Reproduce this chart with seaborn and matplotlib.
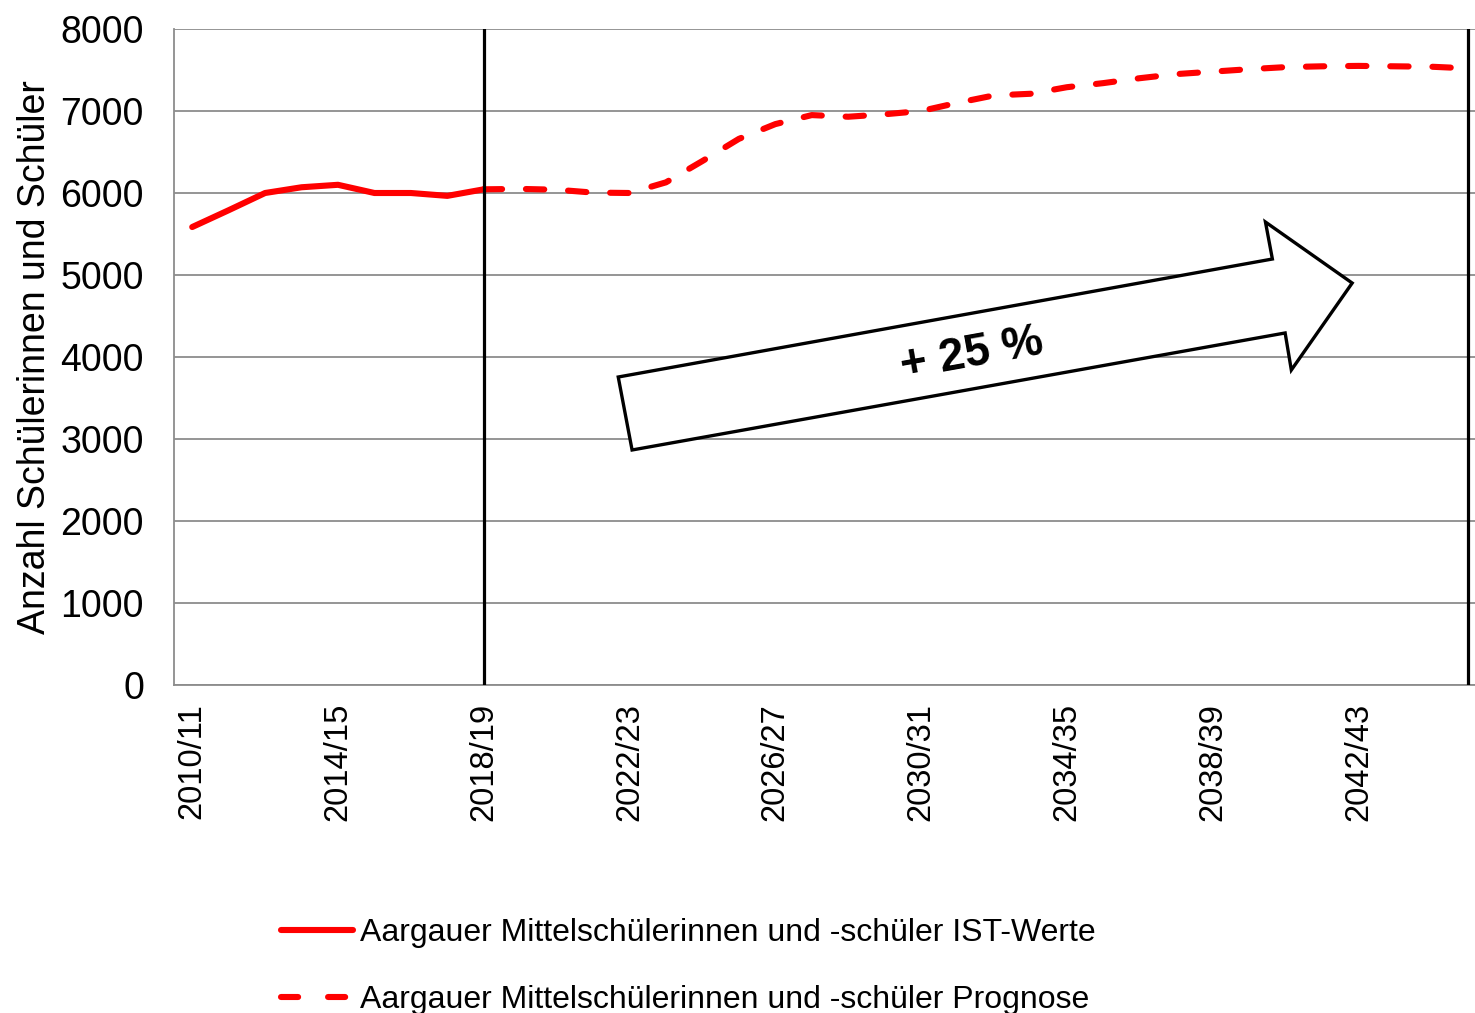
import matplotlib
matplotlib.use("Agg")
import matplotlib.pyplot as plt
import seaborn as sns
import pandas as pd
from matplotlib.patches import Polygon
from matplotlib.lines import Line2D

sns.set_theme(style="white")
plt.rcParams['font.family'] = ['Liberation Sans', 'DejaVu Sans']
plt.rcParams['text.color'] = 'black'
plt.rcParams['axes.labelcolor'] = 'black'

years = ["2010/11", "2011/12", "2012/13", "2013/14", "2014/15", "2015/16",
         "2016/17", "2017/18", "2018/19", "2019/20", "2020/21", "2021/22",
         "2022/23", "2023/24", "2024/25", "2025/26", "2026/27", "2027/28",
         "2028/29", "2029/30", "2030/31", "2031/32", "2032/33", "2033/34",
         "2034/35", "2035/36", "2036/37", "2037/38", "2038/39", "2039/40",
         "2040/41", "2041/42", "2042/43", "2043/44", "2044/45", "2045/46"]

ist_years = years[:9]
ist_values = [5585, 5790, 6000, 6070, 6100, 6000, 6000, 5965, 6045]

prog_years = years[8:]
prog_values = [6045, 6050, 6040, 6005, 6000, 6130, 6390, 6660, 6840, 6950,
               6930, 6960, 7000, 7100, 7190, 7210, 7290, 7340, 7400, 7450,
               7480, 7510, 7535, 7545, 7550, 7545, 7540, 7520]

y_ticks = [0, 1000, 2000, 3000, 4000, 5000, 6000, 7000, 8000]
label_years = years[::4]
vline_years = ["2018/19", "2045/46"]

ist_label = "Aargauer Mittelschülerinnen und -schüler IST-Werte"
prog_label = "Aargauer Mittelschülerinnen und -schüler Prognose"
ylabel = "Anzahl Schülerinnen und Schüler"
arrow_text = "+ 25 %"

idx = {y: i for i, y in enumerate(years)}
df_ist = pd.DataFrame({"x": [idx[y] for y in ist_years], "v": ist_values})
df_prog = pd.DataFrame({"x": [idx[y] for y in prog_years], "v": prog_values})

W, H = 1475, 1013
fig = plt.figure(figsize=(W / 100, H / 100), dpi=100)
left, right, top, bottom = 174, 1475, 29, 685
ax = fig.add_axes([left / W, 1 - bottom / H, (right - left) / W, (bottom - top) / H])

red = "#FF0000"
sns.lineplot(data=df_ist, x="x", y="v", ax=ax, color=red, linewidth=4.4,
             solid_capstyle="round", legend=False)
sns.lineplot(data=df_prog, x="x", y="v", ax=ax, color=red, linewidth=4.4,
             legend=False)
prog_line = ax.get_lines()[-1]
prog_line.set_dashes((3.0, 3.9))
prog_line.set_dash_capstyle("round")

for vy in vline_years:
    ax.axvline(idx[vy], color="black", linewidth=2.3, zorder=4)

ax.set_yticks(y_ticks)
ax.set_yticklabels([str(v) for v in y_ticks], fontsize=27)
ax.yaxis.grid(True, color="#8c8c8c", linewidth=1.3)
ax.set_axisbelow(True)

ax.set_xticks([idx[y] for y in label_years])
ax.set_xticklabels(label_years, rotation=90, fontsize=23.5)
ax.set_xticks([i - 0.5 for i in range(len(years) + 1)], minor=True)
ax.tick_params(axis="x", which="major", length=0, pad=13)
ax.tick_params(axis="x", which="minor", length=8, width=1.3, color="#8c8c8c", direction="out")
ax.tick_params(axis="y", length=8.6, width=1.3, color="#8c8c8c", direction="out", pad=13,
               labelcolor="black")
ax.tick_params(axis="x", labelcolor="black")

ax.set_ylim(0, 8000)
ax.set_xlim(-0.5, 35.2)

for s in ["top", "right"]:
    ax.spines[s].set_visible(False)
for s in ["left", "bottom"]:
    ax.spines[s].set_color("#8c8c8c")
    ax.spines[s].set_linewidth(1.3)

ax.set_xlabel("")
ax.set_ylabel(ylabel, fontsize=27, color="black")
ax.yaxis.set_label_coords(-0.093, 0.5)

# arrow annotation (data coordinates: category index, value)
arrow_pts = [(11.69, 3756), (29.64, 5195), (29.45, 5646), (31.83, 4902),
             (30.16, 3841), (29.99, 4293), (12.07, 2866)]
ax.add_patch(Polygon(arrow_pts, closed=True, facecolor="white", edgecolor="black",
                     linewidth=2.4, zorder=5, joinstyle="miter"))
ax.text(21.38, 4030, arrow_text, fontsize=33, fontweight="bold", rotation=10.2,
        family=["Liberation Sans Narrow", "Liberation Sans", "DejaVu Sans"],
        rotation_mode="anchor", ha="center", va="center", zorder=6, color="black")

handles = [Line2D([], [], color=red, linewidth=4.4, solid_capstyle="round"),
           Line2D([], [], color=red, linewidth=4.4, dashes=(2.8, 4.9), dash_capstyle="round")]
leg = fig.legend(handles, [ist_label, prog_label], loc="upper left",
                 bbox_to_anchor=(265 / W, 1 - 902 / H), frameon=False, fontsize=23.0,
                 handlelength=2.25, handletextpad=0.22, labelspacing=1.17, borderpad=0)
for t in leg.get_texts():
    t.set_color("black")

fig.savefig("out.png", dpi=100, facecolor="white")
